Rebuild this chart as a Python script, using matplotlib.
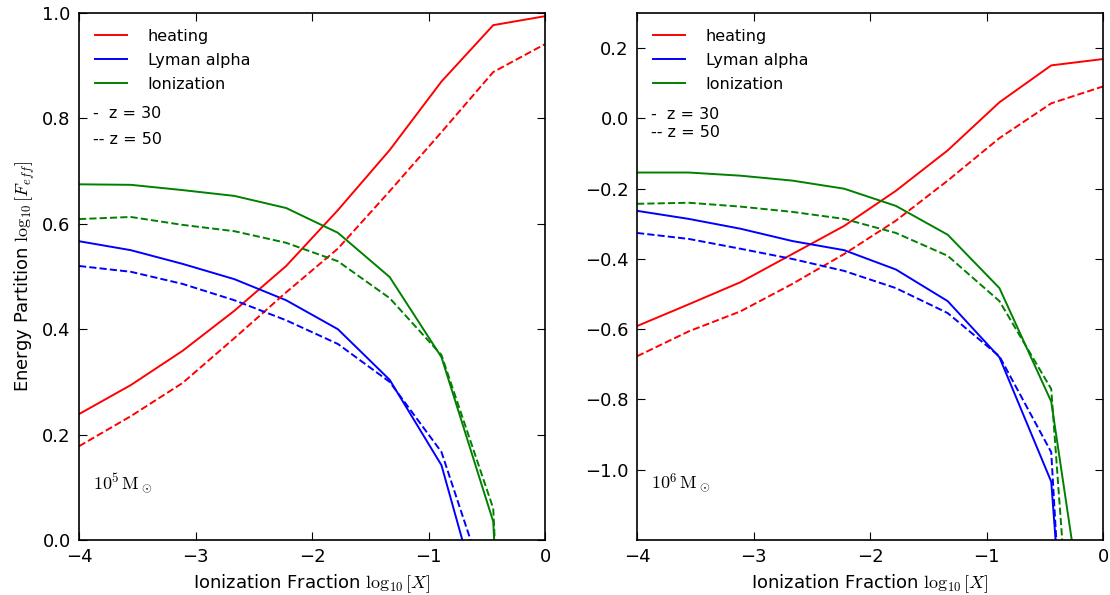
import numpy as np
import matplotlib
matplotlib.use("Agg")
import matplotlib.pyplot as plt

plt.rcParams['mathtext.fontset'] = 'cm'
plt.rcParams['font.family'] = ['DejaVu Sans']

x = np.linspace(-4, 0, 10)

# Left panel: 1e5 Msun
heat30_a = [0.239, 0.294, 0.359, 0.435, 0.520, 0.626, 0.740, 0.870, 0.977, 0.994]
heat50_a = [0.178, 0.235, 0.298, 0.383, 0.470, 0.553, 0.662, 0.774, 0.888, 0.941]
lya30_a = [0.567, 0.550, 0.524, 0.495, 0.455, 0.400, 0.304, 0.142, -0.21, -2.0]
lya50_a = [0.520, 0.509, 0.486, 0.455, 0.417, 0.372, 0.300, 0.167, -0.13, -2.0]
ion30_a = [0.675, 0.674, 0.664, 0.653, 0.630, 0.583, 0.499, 0.347, 0.035, -2.0]
ion50_a = [0.609, 0.613, 0.598, 0.586, 0.564, 0.529, 0.459, 0.351, 0.060, -2.0]

# Right panel: 1e6 Msun
heat30_b = [-0.591, -0.529, -0.466, -0.386, -0.306, -0.206, -0.091, 0.046, 0.151, 0.169]
heat50_b = [-0.677, -0.606, -0.549, -0.471, -0.386, -0.291, -0.177, -0.056, 0.043, 0.091]
lya30_b = [-0.263, -0.286, -0.314, -0.349, -0.375, -0.430, -0.520, -0.680, -1.034, -3.0]
lya50_b = [-0.326, -0.343, -0.371, -0.400, -0.434, -0.483, -0.554, -0.677, -0.950, -3.5]
ion30_b = [-0.154, -0.154, -0.163, -0.177, -0.200, -0.249, -0.331, -0.483, -0.806, -1.8]
ion50_b = [-0.243, -0.240, -0.251, -0.266, -0.286, -0.326, -0.391, -0.520, -0.770, -2.8]

fig = plt.figure(figsize=(11.1, 5.95), dpi=100)
axL = fig.add_axes([0.0712, 0.0924, 0.4198, 0.8857])
axR = fig.add_axes([0.5739, 0.0924, 0.4198, 0.8857])

panels = [
    (axL, heat30_a, heat50_a, lya30_a, lya50_a, ion30_a, ion50_a, (0, 1.0), r'$10^5\,\mathrm{M}_\odot$'),
    (axR, heat30_b, heat50_b, lya30_b, lya50_b, ion30_b, ion50_b, (-1.2, 0.3), r'$10^6\,\mathrm{M}_\odot$'),
]

for ax, h30, h50, l30, l50, i30, i50, ylim, mlabel in panels:
    lw = 1.4
    ax.plot(x, h30, color='red', lw=lw, label='heating')
    ax.plot(x, l30, color='blue', lw=lw, label='Lyman alpha')
    ax.plot(x, i30, color='green', lw=lw, label='Ionization')
    ax.plot(x, h50, color='red', lw=lw, ls='--')
    ax.plot(x, l50, color='blue', lw=lw, ls='--')
    ax.plot(x, i50, color='green', lw=lw, ls='--')
    ax.set_xlim(-4, 0)
    ax.set_ylim(*ylim)
    ax.set_xticks([-4, -3, -2, -1, 0])
    ax.tick_params(direction='in', top=True, right=True, labelsize=13, length=6, pad=6)
    ax.set_xlabel(r'Ionization Fraction $\log_{10}[X]$', fontsize=13)
    ax.legend(loc='upper left', frameon=False, fontsize=11.5, handlelength=2.0,
              handletextpad=1.3, borderaxespad=0.6, labelspacing=0.55)
    ax.text(0.030, 0.108, mlabel, transform=ax.transAxes, fontsize=13, va='center')
    for sp in ax.spines.values():
        sp.set_linewidth(1.2)

axL.text(0.030, 0.810, '-  z = 30', transform=axL.transAxes, fontsize=11.5, va='center')
axL.text(0.030, 0.760, '-- z = 50', transform=axL.transAxes, fontsize=11.5, va='center')
axR.text(0.030, 0.808, '-  z = 30', transform=axR.transAxes, fontsize=11.5, va='center')
axR.text(0.030, 0.774, '-- z = 50', transform=axR.transAxes, fontsize=11.5, va='center')

axL.set_yticks([0.0, 0.2, 0.4, 0.6, 0.8, 1.0])
axL.set_yticklabels(['0.0', '0.2', '0.4', '0.6', '0.8', '1.0'])
axR.set_yticks([0.2, 0.0, -0.2, -0.4, -0.6, -0.8, -1.0])
axL.set_ylabel(r'Energy Partition $\log_{10}[F_{eff}]$', fontsize=13)

fig.savefig('out.png', dpi=100)
